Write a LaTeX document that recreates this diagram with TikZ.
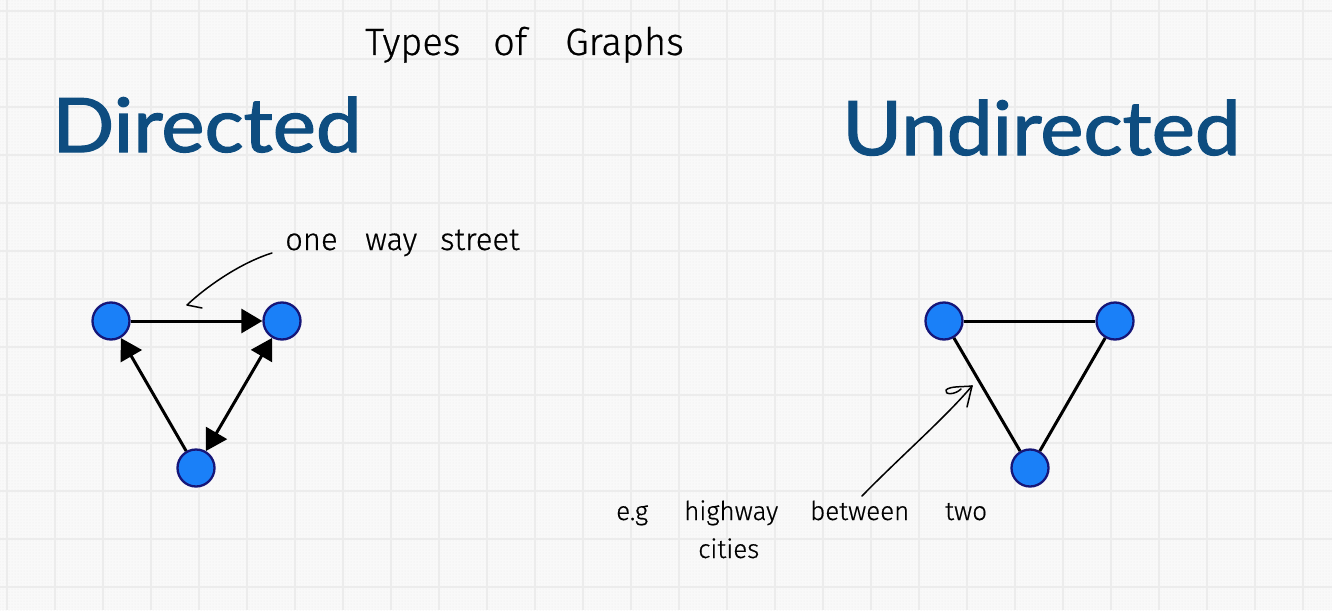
\documentclass[tikz,border=0pt]{standalone}
\usepackage{fontspec}
\usepackage{graphicx}
\usetikzlibrary{arrows.meta,patterns}
\newfontfamily\titlefont{Lato}[FakeBold=1.6]
\newfontfamily\hand{Fira Sans Light}[FakeBold=0.6]
\definecolor{bgc}{RGB}{249,249,249}
\definecolor{gridc}{RGB}{236,236,236}
\definecolor{dotc}{RGB}{232,232,232}
\definecolor{titleblue}{RGB}{14,77,128}
\definecolor{vfill}{RGB}{26,128,248}
\definecolor{vborder}{RGB}{22,22,120}
\tikzset{
  gridline/.style={draw=gridc, line width=1.3pt},
  vtx/.style={circle, draw=vborder, fill=vfill, line width=2.3pt, minimum size=37pt, inner sep=0pt},
  edge/.style={line width=3pt, black},
  hline/.style={line width=1.5pt, black, line cap=round, line join=round},
  title/.style={anchor=base west, inner sep=0pt, text=titleblue, font=\titlefont\fontsize{75}{80}\selectfont},
  handA/.style={anchor=base west, inner sep=0pt, font=\hand\fontsize{38}{42}\selectfont},
  handB/.style={anchor=base west, inner sep=0pt, font=\hand\fontsize{31}{34}\selectfont},
  handC/.style={anchor=base west, inner sep=0pt, font=\hand\fontsize{26}{30}\selectfont},
  >={Triangle[length=21pt,width=24pt]}
}
\begin{document}
\begin{tikzpicture}[x=1pt,y=-1pt]
\useasboundingbox (0,0) rectangle (1332,610);
\fill[bgc] (0,0) rectangle (1332,610);
\fill[pattern=dots, pattern color=dotc] (0,0) rectangle (1332,610);
\foreach \x in {7,55,...,1340} \draw[gridline] (\x,0) -- (\x,610);
\foreach \y in {11,59,...,620} \draw[gridline] (0,\y) -- (1332,\y);

% titles
\node[title] (dir) at (52,152) {\scalebox{1.09}[1]{Directed}};
\node[title] (undir) at (842,155) {\scalebox{1.09}[1]{Undirected}};

% heading
\node[handA] (h1) at (365,55) {Types};
\node[handA] (h2) at (493,55) {of};
\node[handA] (h3) at (565,55) {Graphs};

% directed graph
\node[vtx] (A) at (111,321) {};
\node[vtx] (B) at (282,321) {};
\node[vtx] (C) at (196,468) {};
\draw[edge,->] (A) -- (B);
\draw[edge,->] (C) -- (A);
\draw[edge,<->] (B) -- (C);

% undirected graph
\node[vtx] (D) at (944,321) {};
\node[vtx] (E) at (1115,321) {};
\node[vtx] (F) at (1030,468) {};
\draw[edge] (D) -- (E);
\draw[edge] (D) -- (F);
\draw[edge] (E) -- (F);

% annotation one way street
\node[handB] (w1) at (285,250) {one};
\node[handB] (w2) at (365,250) {way};
\node[handB] (w3) at (440,250) {street};
\coordinate (o1) at (272,253);
\coordinate (o1t) at (187,305);
\coordinate (o1b) at (202,308);
\draw[hline] (o1) .. controls (240,263) and (206,287) .. (o1t) .. controls (192,306) and (197,307) .. (o1b);

% annotation highway
\node[handC] (e1) at (616,520) {e.g};
\node[handC] (e2) at (684,520) {highway};
\node[handC] (e3) at (810,520) {between};
\node[handC] (e4) at (945,520) {two};
\node[handC] (e5) at (698,558) {cities};
\coordinate (o2) at (862,496);
\coordinate (o2t) at (972,386);
\coordinate (o2b) at (967,407);
\draw[hline] (o2) .. controls (900,457) and (945,418) .. (o2t);
\draw[hline] (o2t) -- (o2b);
\draw[hline] (o2t) .. controls (962,387) and (950,386) .. (946,390) .. controls (944,395) and (955,395) .. (961,389);
\end{tikzpicture}
\end{document}
